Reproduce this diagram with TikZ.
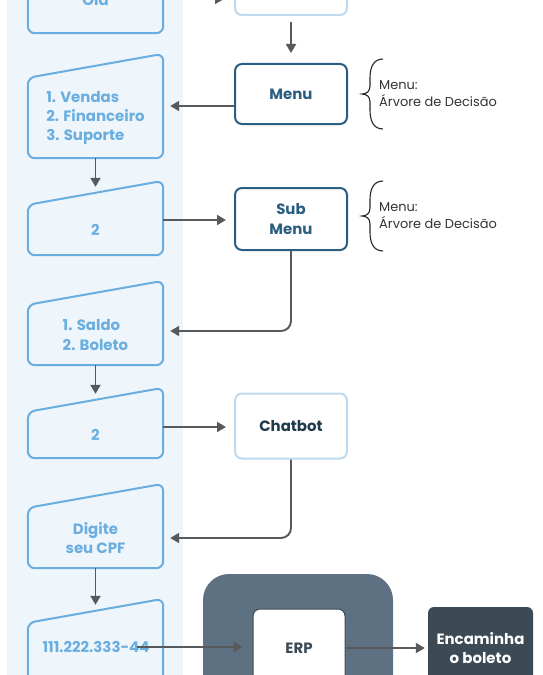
\documentclass[tikz,border=0pt]{standalone}
\usepackage{fontspec}
\setmainfont{Poppins}
\usetikzlibrary{arrows.meta}
\definecolor{painel}{HTML}{EEF5FB}
\definecolor{azul}{HTML}{6AAEE0}
\definecolor{azulclaro}{HTML}{BCDAF0}
\definecolor{marinho}{HTML}{2B5F82}
\definecolor{tinta}{HTML}{1F3A4C}
\definecolor{cinza}{HTML}{58595B}
\definecolor{ardosia}{HTML}{5E7182}
\definecolor{chumbo}{HTML}{3C4A56}
\tikzset{entrada/.style={minimum width=135bp, inner sep=0pt, text=azul,
  font=\bfseries\fontsize{15}{19.5}\selectfont},
  borda/.style={draw=azul, line width=2bp, rounded corners=7bp},
  caixa/.style={draw, fill=white, line width=2bp, rounded corners=7bp,
  minimum width=112bp, inner sep=0pt, align=center,
  font=\bfseries\fontsize{15}{19.5}\selectfont},
  nota/.style={anchor=west, align=left, inner sep=0pt, text=black!80,
  font=\fontsize{13}{17}\selectfont},
  chave/.style={draw=black!85, line width=1.1bp}}

\begin{document}
\begin{tikzpicture}[x=1bp, y=-1bp, >={Triangle[length=9bp, width=10bp]},
  seta/.style={->, draw=cinza, line width=1.9bp}]
  \path[use as bounding box, clip] (0,0) rectangle (543,675);
  \fill[painel] (7,-5) rectangle (183,680);

  \node[entrada, minimum height=68bp] (b0) at (95.5,-1) {Olá};
  \node[entrada, minimum height=80bp, align=left] (b1) at (95.5,118)
    {1. Vendas\\2. Financeiro\\3. Suporte};
  \node[entrada, minimum height=50bp] (b2) at (95.5,230) {2};
  \node[entrada, minimum height=60bp, align=left] (b3) at (95.5,335)
    {1. Saldo\\2. Boleto};
  \node[entrada, minimum height=46bp] (b4) at (95.5,435) {2};
  \node[entrada, minimum height=60bp, align=center] (b5) at (95.5,538)
    {Digite\\seu CPF};
  \node[entrada, minimum height=78bp] (b6) at (95.5,662) {};
  \foreach \b in {b0,b1,b2,b3,b4,b5,b6}
    \draw[borda] (\b.south west) -- (\b.north west)
      -- ([yshift=24bp]\b.north east) -- (\b.south east) -- cycle;
  \node[entrada, minimum width=0pt] (cpf) at (96,647) {111.222.333-44};

  \node[caixa, draw=azulclaro, minimum height=60bp] (topo) at (291,-15) {};
  \node[caixa, draw=marinho, text=marinho, minimum height=60bp] (menu) at (291,94) {Menu};
  \node[caixa, draw=marinho, text=marinho, minimum height=62bp] (sub) at (291,219) {Sub\\Menu};
  \node[caixa, draw=azulclaro, text=tinta, minimum height=65bp] (chat) at (291,426) {Chatbot};

  \node[nota] (n1) at (379,94) {Menu:\\Árvore de Decisão};
  \node[nota] (n2) at (379,216) {Menu:\\Árvore de Decisão};
  \foreach \n in {n1,n2}
    \draw[chave] ([shift={(4,-35)}]\n.west) .. controls +(-10,0) and +(0,-10) .. ++(-13,19)
      -- ++(0,8) .. controls +(0,5) and +(5,0) .. ++(-8,8)
      .. controls +(5,0) and +(0,-5) .. ++(8,8) -- ++(0,8)
      .. controls +(0,10) and +(-10,0) .. ++(13,19);

  \node[fill=ardosia, rounded corners=26bp, minimum width=190bp, minimum height=200bp] (erpbg) at (298,674) {};
  \node[caixa, draw=chumbo, text=chumbo, line width=1bp, minimum width=92bp, minimum height=78bp] (erp) at (299,648) {ERP};
  \node[fill=chumbo, text=white, rounded corners=6bp, minimum width=105bp, minimum height=82bp,
    align=center, font=\bfseries\fontsize{15}{19.5}\selectfont] (enc) at (480.5,648) {Encaminha\\o boleto};

  \coordinate (s1) at ([yshift=12bp]b1.east);
  \coordinate (s2) at ([yshift=10bp]b2.east);
  \coordinate (s3) at ([yshift=4bp]b3.east);
  \coordinate (s4) at ([yshift=8bp]b4.east);
  \coordinate (s5) at (b5.east);
  \coordinate (s6) at ([xshift=-13bp]cpf.east);
  \draw[seta, shorten >=10bp] (b0.east) -- (b0.east -| topo.west);
  \draw[seta, shorten <=6bp, shorten >=10bp] (topo.south) -- (menu.north);
  \draw[seta, shorten >=7bp] (menu.west |- s1) -- (s1);
  \draw[seta, shorten >=6bp] (b1.south) -- ([yshift=12bp]b2.north);
  \draw[seta, shorten >=8bp] (s2) -- (s2 -| sub.west);
  \draw[seta, shorten >=7bp, rounded corners=10bp] (sub.south) |- (s3);
  \draw[seta, shorten >=6bp] (b3.south) -- ([yshift=12bp]b4.north);
  \draw[seta, shorten >=8bp] (s4) -- (s4 -| chat.west);
  \draw[seta, shorten >=7bp, rounded corners=10bp] (chat.south) |- (s5);
  \draw[seta, shorten >=6bp] (b5.south) -- ([yshift=12bp]b6.north);
  \draw[seta, shorten >=10bp] (s6) -- (s6 -| erp.west);
  \draw[seta, shorten >=3bp] (erp.east) -- (enc.west);
\end{tikzpicture}
\end{document}
